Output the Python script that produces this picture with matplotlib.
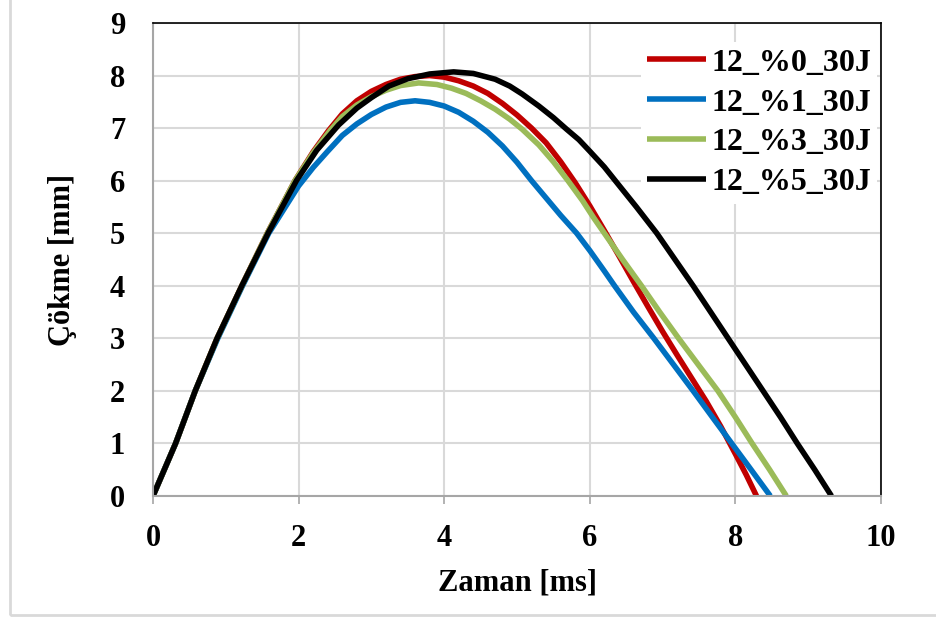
import matplotlib.pyplot as plt
from matplotlib.patches import Rectangle

plt.rcParams['font.family'] = ['Liberation Serif', 'DejaVu Serif']
plt.rcParams['font.weight'] = 'bold'

# time [ms] and deflection [mm]
t_0 = [0, 0.31, 0.58, 0.88, 1.22, 1.57, 1.95, 2.2, 2.41, 2.6, 2.8, 3.0, 3.2, 3.4,
       3.6, 3.8, 4.0, 4.2, 4.4, 4.6, 4.8, 5.0, 5.2, 5.4, 5.6, 5.8, 6.0, 6.2,
       6.4, 6.6, 6.8, 7.0, 7.2, 7.4, 7.6, 7.8, 8.0, 8.15, 8.29]
d_0 = [0, 1, 2, 3, 4, 5, 6, 6.55, 6.95, 7.27, 7.52, 7.7, 7.83, 7.93,
       7.98, 8.0, 7.97, 7.9, 7.8, 7.66, 7.47, 7.25, 7.0, 6.72, 6.36, 5.96, 5.52, 5.05,
       4.57, 4.08, 3.6, 3.13, 2.68, 2.24, 1.8, 1.32, 0.8, 0.4, 0]

t_1 = [0, 0.31, 0.58, 0.89, 1.23, 1.59, 2.0, 2.2, 2.4, 2.6, 2.8, 3.0, 3.2, 3.4,
       3.6, 3.8, 4.0, 4.2, 4.4, 4.6, 4.8, 5.0, 5.2, 5.4, 5.6, 5.82, 6.0, 6.2,
       6.34, 6.6, 6.88, 7.15, 7.42, 7.7, 7.95, 8.2, 8.48]
d_1 = [0, 1, 2, 3, 4, 5, 5.9, 6.25, 6.56, 6.86, 7.08, 7.26, 7.4, 7.49,
       7.52, 7.49, 7.42, 7.3, 7.13, 6.92, 6.66, 6.35, 6.0, 5.67, 5.34, 5.0, 4.67, 4.28,
       4.0, 3.5, 3.0, 2.5, 2.0, 1.47, 1.0, 0.53, 0]

t_3 = [0, 0.31, 0.58, 0.88, 1.22, 1.57, 1.95, 2.2, 2.43, 2.6, 2.8, 3.0, 3.2, 3.4,
       3.65, 3.9, 4.1, 4.3, 4.5, 4.7, 4.9, 5.07, 5.3, 5.5, 5.7, 5.9, 6.05, 6.2,
       6.45, 6.71, 6.96, 7.22, 7.5, 7.76, 8.0, 8.23, 8.47, 8.7]
d_3 = [0, 1, 2, 3, 4, 5, 6, 6.53, 6.95, 7.22, 7.44, 7.6, 7.72, 7.81,
       7.86, 7.83, 7.76, 7.66, 7.52, 7.36, 7.17, 6.98, 6.68, 6.36, 6.0, 5.62, 5.3, 5.0,
       4.5, 4.0, 3.5, 3.0, 2.48, 2.0, 1.5, 1.0, 0.5, 0]

t_5 = [0, 0.31, 0.58, 0.88, 1.22, 1.58, 1.97, 2.25, 2.55, 2.8, 3.0, 3.24, 3.5,
       3.8, 4.13, 4.4, 4.7, 4.9, 5.07, 5.3, 5.5, 5.68, 5.85, 6.0, 6.2, 6.35,
       6.64, 6.92, 7.17, 7.42, 7.66, 7.9, 8.14, 8.38, 8.62, 8.85, 9.09, 9.32]
d_5 = [0, 1, 2, 3, 4, 5, 6, 6.58, 7.06, 7.38, 7.58, 7.8, 7.94,
       8.03, 8.07, 8.04, 7.93, 7.8, 7.65, 7.42, 7.2, 6.98, 6.78, 6.56, 6.26, 6.0,
       5.5, 5.0, 4.5, 4.0, 3.5, 3.0, 2.5, 2.0, 1.5, 1.0, 0.5, 0]

labels = ['12_%0_30J', '12_%1_30J', '12_%3_30J', '12_%5_30J']
colors = ['#C00000', '#0070C0', '#9BBB59', '#000000']

fig = plt.figure(figsize=(9.36, 6.19), dpi=100)
ax = fig.add_axes([153 / 936, 1 - 496 / 619, 728 / 936, 473 / 619])

for t, d, lab, col in zip((t_0, t_1, t_3, t_5), (d_0, d_1, d_3, d_5), labels, colors):
    ax.plot(t, d, color=col, lw=4, label=lab, solid_capstyle='butt', solid_joinstyle='round')

ax.set_xlim(0, 10)
ax.set_ylim(0, 9)
ax.set_xticks(range(0, 11, 2))
ax.set_yticks(range(0, 10))
ax.grid(color='#d9d9d9', lw=1.5)
ax.set_axisbelow(True)

for s in ('left', 'bottom'):
    ax.spines[s].set_color('#a6a6a6')
    ax.spines[s].set_linewidth(1.5)
for s in ('top', 'right'):
    ax.spines[s].set_color('black')
    ax.spines[s].set_linewidth(1.2)

ax.tick_params(axis='x', length=6, width=1.2, color='#a6a6a6', pad=14, labelsize=22)
ax.tick_params(axis='y', length=0, pad=20, labelsize=22)

ax.set_xlabel('Zaman [ms]', fontsize=22, fontweight='bold', labelpad=11)
ax.set_ylabel('Çökme [mm]', fontsize=22, fontweight='bold', labelpad=24)

leg = ax.legend(loc='upper right', bbox_to_anchor=(0.995, 0.96), fontsize=23,
                frameon=True, framealpha=1, edgecolor='none', fancybox=False,
                handlelength=1.85, handletextpad=0.15, labelspacing=0.33,
                borderpad=0.2, borderaxespad=0)

fig.patches.append(Rectangle((10 / 936, 4 / 619), 1.0, 1.2, transform=fig.transFigure,
                             fill=False, edgecolor='#d9d9d9', lw=2))

fig.savefig('out.png', dpi=100)
